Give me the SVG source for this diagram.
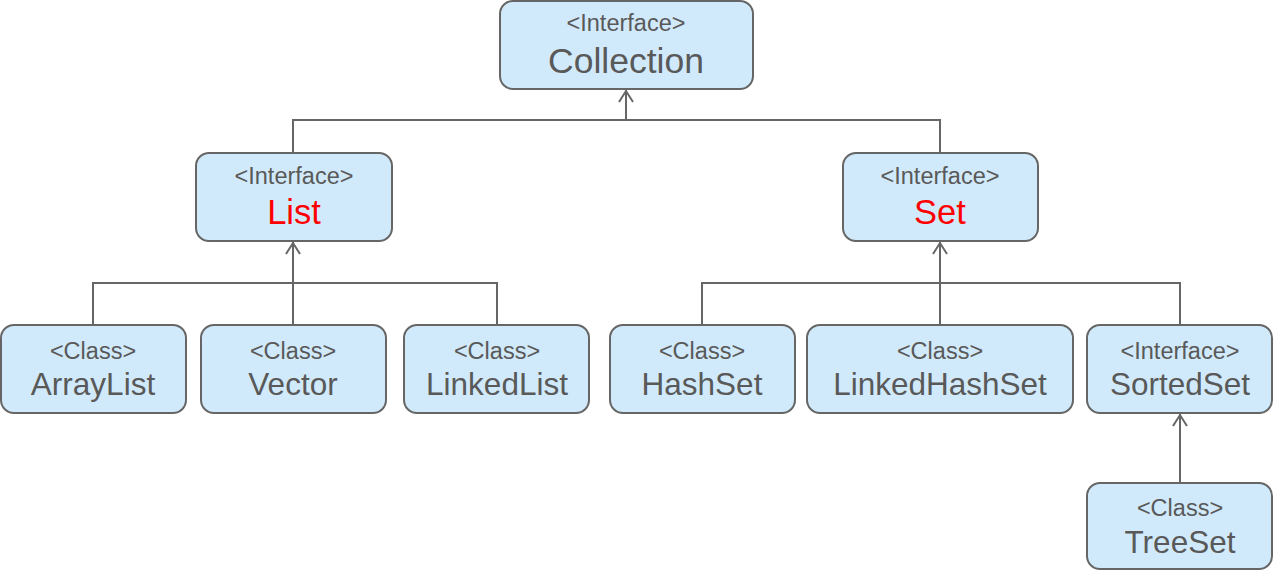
<svg xmlns="http://www.w3.org/2000/svg" width="1274" height="572" viewBox="0 0 1274 572">
<defs>
<style>
.box{fill:#d1eafb;stroke:#666;stroke-width:2}
.t{font-family:"Liberation Sans",Arial,sans-serif;fill:#595959;text-anchor:middle}
.s{font-size:23.5px}
.n{font-size:31.5px}
.red{fill:#ff0000}
.c{fill:none;stroke:#666;stroke-width:2}
</style>
</defs>
<g id="connectors">
<path class="c" d="M626,120 V90"/>
<path class="c" d="M293,153 V120 H940 V153"/>
<path class="c" d="M293,283 V242"/>
<path class="c" d="M93,325 V283 H497 V325"/>
<path class="c" d="M293,325 V283"/>
<path class="c" d="M940,283 V242"/>
<path class="c" d="M702,325 V283 H1180 V325"/>
<path class="c" d="M940,325 V283"/>
<path class="c" d="M1180,483 V414"/>
<path class="c" d="M619,102 L626,91 L633,102"/>
<path class="c" d="M286,254 L293,243 L300,254"/>
<path class="c" d="M933,254 L940,243 L947,254"/>
<path class="c" d="M1173,426 L1180,415 L1187,426"/>
</g>
<g id="collection">
<rect class="box" x="500" y="1" width="253" height="88" rx="13"/>
<text class="t s" x="626" y="31">&lt;Interface&gt;</text>
<text class="t" style="font-size:35.5px" x="626" y="73">Collection</text>
</g>
<g id="list">
<rect class="box" x="196" y="153" width="196" height="88" rx="13"/>
<text class="t s" x="294" y="184">&lt;Interface&gt;</text>
<text class="t red" style="font-size:34.5px" x="294" y="224">List</text>
</g>
<g id="set">
<rect class="box" x="843" y="153" width="195" height="88" rx="13"/>
<text class="t s" x="940" y="184">&lt;Interface&gt;</text>
<text class="t red" style="font-size:34.5px" x="940" y="224">Set</text>
</g>
<g id="arraylist">
<rect class="box" x="1" y="325" width="185" height="88" rx="13"/>
<text class="t s" x="93" y="359">&lt;Class&gt;</text>
<text class="t n" x="93" y="395">ArrayList</text>
</g>
<g id="vector">
<rect class="box" x="201" y="325" width="185" height="88" rx="13"/>
<text class="t s" x="293" y="359">&lt;Class&gt;</text>
<text class="t n" x="293" y="395">Vector</text>
</g>
<g id="linkedlist">
<rect class="box" x="404" y="325" width="185" height="88" rx="13"/>
<text class="t s" x="497" y="359">&lt;Class&gt;</text>
<text class="t n" x="497" y="395">LinkedList</text>
</g>
<g id="hashset">
<rect class="box" x="610" y="325" width="185" height="88" rx="13"/>
<text class="t s" x="702" y="359">&lt;Class&gt;</text>
<text class="t n" x="702" y="395">HashSet</text>
</g>
<g id="linkedhashset">
<rect class="box" x="807" y="325" width="266" height="88" rx="13"/>
<text class="t s" x="940" y="359">&lt;Class&gt;</text>
<text class="t n" x="940" y="395">LinkedHashSet</text>
</g>
<g id="sortedset">
<rect class="box" x="1087" y="325" width="185" height="88" rx="13"/>
<text class="t s" x="1180" y="359">&lt;Interface&gt;</text>
<text class="t n" x="1180" y="395">SortedSet</text>
</g>
<g id="treeset">
<rect class="box" x="1087" y="483" width="185" height="86" rx="13"/>
<text class="t s" x="1180" y="516">&lt;Class&gt;</text>
<text class="t n" x="1180" y="553">TreeSet</text>
</g>
</svg>
